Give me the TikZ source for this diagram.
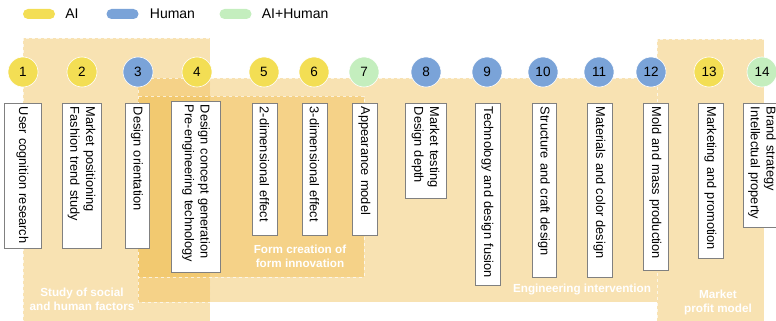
\documentclass[tikz,border=0pt]{standalone}
\usepackage{fontspec}
\setmainfont{Liberation Sans}
\usepackage{tikz}
\usetikzlibrary{positioning}
\usepackage{xcolor}

\definecolor{aiyellow}{RGB}{243,222,84}
\definecolor{humanblue}{RGB}{122,163,216}
\definecolor{mixgreen}{RGB}{196,238,190}
\definecolor{phase}{RGB}{240,190,84}
\definecolor{boxline}{RGB}{128,128,128}

\begin{document}
\begin{tikzpicture}[x=1pt, y=-1pt,
    phasebox/.style={fill=phase, fill opacity=0.45, draw=white, draw opacity=0.7, dashed, line width=0.5pt},
    phaselabel/.style={text=white, align=center, font=\fontsize{11.7}{14}\selectfont\bfseries},
    num/.style={circle, draw=white, line width=0.6pt, minimum size=30pt, inner sep=0pt, font=\fontsize{13.5}{13.5}\selectfont},
    ai/.style={num, fill=aiyellow},
    human/.style={num, fill=humanblue},
    mix/.style={num, fill=mixgreen},
    task/.style={draw=boxline, fill=white, line width=0.7pt, rotate=-90, anchor=west, align=left, inner xsep=3.5pt, inner ysep=1pt, font=\fontsize{12.8}{15.8}\selectfont},
    key/.style={rounded corners=5pt, minimum width=32pt, minimum height=10pt, inner sep=0pt},
    keytext/.style={inner sep=0pt, font=\fontsize{14}{14}\selectfont}]
      \useasboundingbox (0,0) rectangle (776,321);

      % Legend
      \node[key, fill=aiyellow] (keyai) at (39,14) {};
      \node[keytext, right=10pt of keyai] (keyaitext) {AI};
      \node[key, fill=humanblue] (keyhuman) at (122.5,14) {};
      \node[keytext, right=11pt of keyhuman] (keyhumantext) {Human};
      \node[key, fill=mixgreen] (keymix) at (235.5,14) {};
      \node[keytext, right=10pt of keymix] (keymixtext) {AI+Human};

      % Phases (overlapping shaded areas)
      \draw[phasebox] (23,38) rectangle (210,325);
      \draw[phasebox] (138,78) rectangle (657,302);
      \draw[phasebox] (138,96) rectangle (364,277);
      \draw[phasebox] (657,39) rectangle (764,325);

      \node[phaselabel] (social) at (82,299) {Study of social\\and human factors};
      \node[phaselabel] (form) at (300,256) {Form creation of\\form innovation};
      \node[phaselabel] (engineering) at (582,289) {Engineering intervention};
      \node[phaselabel] (market) at (718,302) {Market\\profit model};

      % Steps
      \node[ai] (s1) at (23,72) {1};
      \node[ai] (s2) at (82,72) {2};
      \node[human] (s3) at (138,72) {3};
      \node[ai] (s4) at (197,72) {4};
      \node[ai] (s5) at (264,72) {5};
      \node[ai] (s6) at (314,72) {6};
      \node[mix] (s7) at (364,72) {7};
      \node[human] (s8) at (426,72) {8};
      \node[human] (s9) at (487,72) {9};
      \node[human] (s10) at (543,72) {10};
      \node[human] (s11) at (599,72) {11};
      \node[human] (s12) at (651,72) {12};
      \node[ai] (s13) at (709,72) {13};
      \node[mix] (s14) at (762,72) {14};

      % Tasks under each step
      \node[task, minimum height=37pt, text width=138pt] (t1) at (22.5,103) {User cognition research};
      \node[task, minimum height=39pt, text width=138pt] (t2) at (81.5,103) {Market positioning\\Fashion trend study};
      \node[task, minimum height=24pt, text width=138pt] (t3) at (137,103) {Design orientation};
      \node[task, minimum height=49pt, text width=164pt] (t4) at (196,101) {Design concept generation\\Pre-engineering technology};
      \node[task, minimum height=25pt, text width=125pt] (t5) at (264.5,103) {2-dimensional effect};
      \node[task, minimum height=25pt, text width=125pt] (t6) at (314.5,103) {3-dimensional effect};
      \node[task, minimum height=25pt, text width=125pt] (t7) at (364.5,103) {Appearance model};
      \node[task, minimum height=41pt, text width=88pt] (t8) at (425.5,103) {Market testing\\Design depth};
      \node[task, minimum height=25pt, text width=175pt] (t9) at (487.5,103) {Technology and design fusion};
      \node[task, minimum height=24pt, text width=167pt] (t10) at (544,103) {Structure and craft design};
      \node[task, minimum height=25pt, text width=167pt] (t11) at (599.5,103) {Materials and color design};
      \node[task, minimum height=25pt, text width=160pt] (t12) at (655.5,103) {Mold and mass production};
      \node[task, minimum height=25pt, text width=148pt] (t13) at (710.5,103) {Marketing and promotion};
      \node[task, minimum height=38pt, text width=117pt] (t14) at (762,103) {Brand strategy\\Intellectual property};
\end{tikzpicture}
\end{document}
